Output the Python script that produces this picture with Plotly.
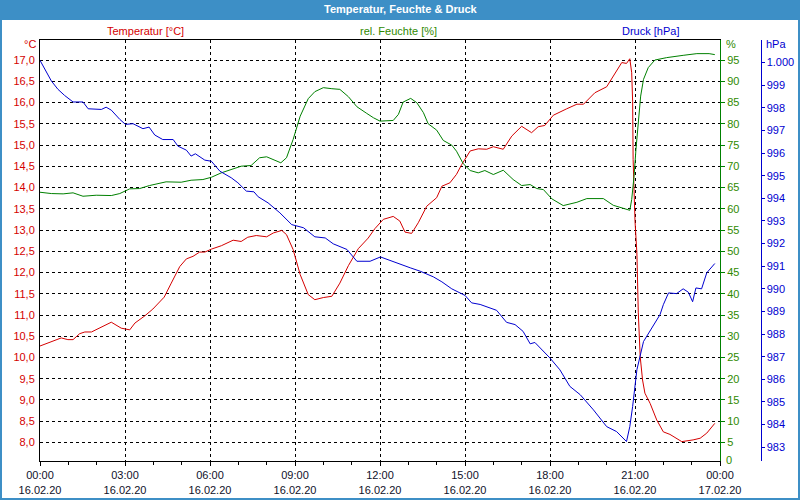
import plotly.graph_objects as go

DATE = "2020-02-16"

temp_times = ["00:00","00:24","00:45","00:59","01:10","01:24","01:35","01:49","02:10","02:31","02:52","03:10","03:21","03:42","03:59",
              "04:23","04:38","04:56","05:10","05:24","05:38","05:49","06:03","06:24","06:49","07:06","07:20","07:38","08:00","08:14",
              "08:32","08:42","08:56","09:11","09:28","09:42","10:00","10:18","10:35","10:53","11:14","11:35","11:49","12:07","12:28",
              "12:42","12:53","13:07","13:21","13:39","14:00","14:11","14:28","14:42","14:53","15:11","15:28","15:46","16:00","16:21",
              "16:39","17:00","17:21","17:35","17:49","18:07","18:35","18:57","19:11","19:35","20:00","20:18","20:32","20:42","20:49",
              "20:53","20:55","20:56","20:58","21:00","21:04","21:07","21:11","21:16","21:21","21:32","21:46","22:00","22:14","22:39",
              "23:03","23:18","23:32","23:49"]
temp_values = [10.27,10.38,10.46,10.42,10.42,10.56,10.60,10.60,10.72,10.83,10.69,10.65,10.81,10.98,11.14,
               11.42,11.75,12.14,12.32,12.38,12.48,12.48,12.55,12.63,12.76,12.73,12.83,12.87,12.84,12.93,
               12.99,12.89,12.54,11.95,11.48,11.36,11.41,11.44,11.75,12.16,12.56,12.81,13.03,13.25,13.32,
               13.21,12.95,12.92,13.17,13.56,13.76,14.03,14.11,14.31,14.54,14.86,14.91,14.90,14.96,14.90,
               15.21,15.44,15.29,15.43,15.46,15.70,15.85,15.96,15.96,16.23,16.37,16.70,16.94,16.92,17.03,
               16.70,16.03,14.66,13.95,13.21,12.46,11.05,10.02,9.47,9.16,8.92,8.53,8.25,8.19,8.02,
               8.06,8.10,8.22,8.45]

hum_times = ["00:00","00:24","00:49","01:10","01:31","01:59","02:31","02:49","03:10","03:31","03:52","04:27","04:59","05:20","05:45",
             "06:03","06:24","06:45","07:06","07:27","07:45","08:00","08:14","08:30","08:42","08:56","09:11","09:28","09:42","10:00",
             "10:18","10:35","10:53","11:11","11:32","11:46","12:00","12:28","12:39","12:49","13:05","13:18","13:32","13:42","14:00",
             "14:14","14:32","14:42","14:56","15:11","15:28","15:42","16:00","16:21","16:42","17:00","17:18","17:32","17:46","18:04",
             "18:28","18:57","19:18","19:53","20:14","20:35","20:49","20:53","20:58","21:02","21:07","21:12","21:18","21:28","21:42",
             "22:07","22:42","23:11","23:37","23:49"]
hum_values = [63.89,63.58,63.51,63.75,62.95,63.19,63.11,63.58,64.69,64.76,65.47,66.34,66.25,66.72,66.88,
              67.42,68.46,69.24,70.02,70.18,72.0,72.23,71.60,70.82,72.0,76.31,81.80,85.91,87.56,88.50,
              88.26,88.10,86.38,84.02,82.44,81.43,80.63,80.79,82.21,85.11,85.98,84.96,82.61,80.01,78.51,
              76.08,74.97,73.55,70.65,69.0,68.46,69.0,68.06,69.07,66.88,65.47,65.70,64.76,64.52,62.33,
              60.75,61.53,62.40,62.40,60.82,60.04,59.64,62.17,67.66,73.95,81.03,86.52,90.46,93.21,95.0,
              95.57,96.11,96.51,96.51,96.28]

press_times = ["00:00","00:24","00:38","00:52","01:10","01:31","01:42","02:10","02:20","02:31","02:49","03:01","03:17","03:38","03:51",
               "04:03","04:20","04:42","04:52","05:10","05:20","05:29","05:49","06:03","06:21","06:45","06:59","07:17","07:33","07:42",
               "08:03","08:28","08:53","09:18","09:42","10:04","10:21","10:50","11:11","11:39","12:01","12:28","13:04","13:25","13:53",
               "14:11","14:32","15:00","15:14","15:32","15:53","16:07","16:28","16:46","17:03","17:18","17:28","18:00","18:21","18:42",
               "19:04","19:32","20:00","20:21","20:42","20:49","20:55","21:00","21:04","21:18","21:28","21:39","21:53","22:00","22:11",
               "22:28","22:42","22:53","23:02","23:09","23:21","23:32","23:49"]
press_values = [1000.1,999.19,998.82,998.55,998.26,998.26,997.96,997.93,998.03,997.90,997.49,997.27,997.30,997.08,997.15,
                996.80,996.60,996.60,996.31,996.13,995.87,995.97,995.69,995.64,995.20,994.91,994.69,994.32,994.29,994.07,
                993.80,993.36,992.84,992.70,992.30,992.25,991.99,991.74,991.22,991.22,991.41,991.19,990.93,990.78,990.53,
                990.31,990.00,989.71,989.38,989.31,989.15,989.05,988.52,988.42,988.12,987.57,987.63,986.94,986.42,985.69,
                985.32,984.65,983.91,983.69,983.25,983.91,984.80,985.61,986.42,987.67,988.01,988.42,988.86,989.30,989.82,
                989.79,990.00,989.85,989.43,990.04,990.00,990.71,991.12]

x_tick_times = ["2020-02-16 00:00","2020-02-16 03:00","2020-02-16 06:00","2020-02-16 09:00","2020-02-16 12:00",
                "2020-02-16 15:00","2020-02-16 18:00","2020-02-16 21:00","2020-02-17 00:00"]
x_tick_labels = ["00:00<br>16.02.20","03:00<br>16.02.20","06:00<br>16.02.20","09:00<br>16.02.20","12:00<br>16.02.20",
                 "15:00<br>16.02.20","18:00<br>16.02.20","21:00<br>16.02.20","00:00<br>17.02.20"]
temp_ticks = [8.0,8.5,9.0,9.5,10.0,10.5,11.0,11.5,12.0,12.5,13.0,13.5,14.0,14.5,15.0,15.5,16.0,16.5,17.0]
temp_tick_labels = [f"{v:.1f}".replace(".", ",") for v in temp_ticks]
hum_ticks = [5,10,15,20,25,30,35,40,45,50,55,60,65,70,75,80,85,90,95]
press_ticks = [983,984,985,986,987,988,989,990,991,992,993,994,995,996,997,998,999,1000]
press_tick_labels = [("1.000" if v == 1000 else str(v)) for v in press_ticks]

RED = "#d40000"
GREEN = "#008000"
GREEN_TXT = "#2f8a00"
BLUE = "#0000d0"
BAR = "#3d8fc6"
FONT = "Liberation Sans"
DASH = "3px,3px"

def ts(t):
    return f"{DATE} {t}"

# pixel -> paper helpers (margins l=40, r=0, t=40, b=39)
def pxx(px):
    return (px - 40) / 760.0

def pxy(py):
    return (461 - py) / 421.0

fig = go.Figure()
fig.add_trace(go.Scatter(x=[ts(t) for t in hum_times], y=hum_values, yaxis="y2", mode="lines",
                         line=dict(color=GREEN, width=1), name="rel. Feuchte [%]"))
fig.add_trace(go.Scatter(x=[ts(t) for t in press_times], y=press_values, yaxis="y3", mode="lines",
                         line=dict(color=BLUE, width=1), name="Druck [hPa]"))
fig.add_trace(go.Scatter(x=[ts(t) for t in temp_times], y=temp_values, yaxis="y", mode="lines",
                         line=dict(color=RED, width=1), name="Temperatur [°C]"))

fig.update_layout(
    width=800, height=500,
    margin=dict(l=40, r=0, t=40, b=39, autoexpand=False),
    paper_bgcolor="white", plot_bgcolor="white",
    showlegend=False,
    font=dict(family=FONT, size=11, color="black"),
    xaxis=dict(
        type="date", domain=[0, 680/760], automargin=False,
        range=["2020-02-16 00:00", "2020-02-17 00:00"],
        tickmode="array", tickvals=x_tick_times, ticktext=x_tick_labels,
        tickfont=dict(family=FONT, size=11, color="#10102a"),
        showgrid=True, gridcolor="black", griddash=DASH, gridwidth=1,
        ticks="outside", ticklen=4, tickcolor="black",
        minor=dict(tick0="2020-02-16 00:00", dtick=3600000, ticks="outside", ticklen=3,
                   tickcolor="black", showgrid=False),
        showline=True, linecolor="black", linewidth=1, mirror=True,
        zeroline=False,
    ),
    yaxis=dict(
        range=[7.564, 17.471], tickmode="array", tickvals=temp_ticks, ticktext=temp_tick_labels,
        tickfont=dict(color=RED, size=11, family=FONT), automargin=False,
        showgrid=False, zeroline=False, ticks="", ticklabelstandoff=2,
        showline=True, linecolor="black", linewidth=1,
    ),
    yaxis2=dict(
        range=[0.64, 99.72], overlaying="y", side="right", anchor="x", automargin=False,
        tickmode="array", tickvals=hum_ticks,
        tickfont=dict(color=GREEN_TXT, size=11, family=FONT),
        showgrid=True, gridcolor="black", griddash=DASH, gridwidth=1,
        ticks="outside", ticklen=4, tickcolor=GREEN,
        showline=True, linecolor=GREEN, linewidth=1, zeroline=False,
    ),
    yaxis3=dict(
        range=[982.39, 1001.0], overlaying="y", side="right", anchor="free", position=pxx(760.5),
        tickmode="array", tickvals=press_ticks, ticktext=press_tick_labels, automargin=False,
        tickfont=dict(color=BLUE, size=11, family=FONT),
        showgrid=False, zeroline=False,
        ticks="outside", ticklen=3, tickcolor=BLUE,
        showline=True, linecolor=BLUE, linewidth=1,
    ),
)

# title bar and frame
fig.add_shape(type="rect", xref="paper", yref="paper", x0=pxx(0), x1=pxx(800), y0=pxy(20), y1=pxy(0),
              fillcolor=BAR, line=dict(width=0), layer="below")
fig.add_shape(type="rect", xref="paper", yref="paper", x0=pxx(1), x1=pxx(799), y0=pxy(499), y1=pxy(1),
              fillcolor="rgba(0,0,0,0)", line=dict(color=BAR, width=2))

def ann(text, x, y, color, xanchor="center", bold=False, size=11):
    fig.add_annotation(text=(f"<b>{text}</b>" if bold else text), x=pxx(x), y=pxy(y),
                       xref="paper", yref="paper", showarrow=False, xanchor=xanchor, yanchor="middle",
                       font=dict(family=FONT, size=size, color=color))

ann("Temperatur, Feuchte & Druck", 400, 9, "white", bold=True)
ann("Temperatur [°C]", 145, 31, RED)
ann("rel. Feuchte [%]", 398, 31, GREEN_TXT)
ann("Druck [hPa]", 650, 31, BLUE)
ann("°C", 38, 44, RED, xanchor="right")
ann("%", 724, 44, GREEN_TXT, xanchor="left")
ann("hPa", 764, 44, BLUE, xanchor="left")
ann("0", 724, 460, GREEN_TXT, xanchor="left")

fig.write_html("out.html")
